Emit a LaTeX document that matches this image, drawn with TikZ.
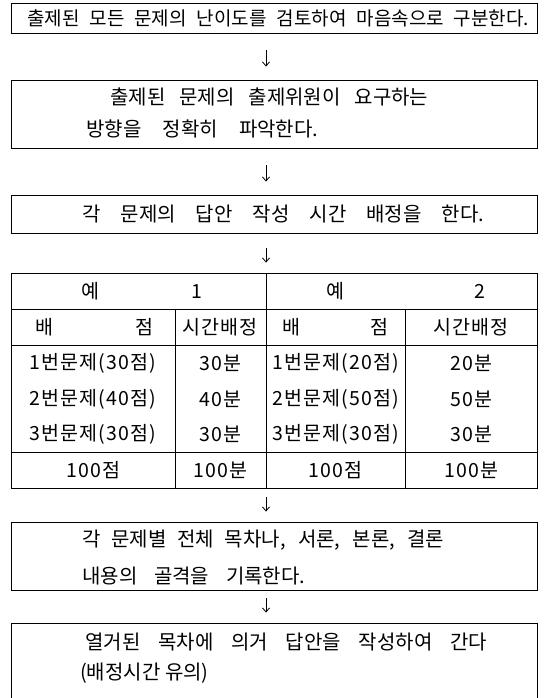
\documentclass[tikz,border=0pt]{standalone}
\usepackage{fontspec}
\setmainfont{Noto Sans CJK KR}
\newfontfamily\tblfont[LetterSpace=6]{Noto Sans CJK KR}
\usetikzlibrary{arrows.meta}
\begin{document}
\begin{tikzpicture}[x=1pt,y=-1pt,
  box/.style={draw,line width=0.9pt,minimum width=526pt,inner sep=0pt},
  txt/.style={anchor=west,inner sep=0pt,font=\fontsize{20}{22}\selectfont},
  cell/.style={inner sep=0pt,font=\tblfont\fontsize{19.5}{21}\selectfont},
  rule/.style={line width=0.9pt},
  arr/.style={line width=0.8pt,-{Straight Barb[length=4pt,width=7pt]}}]
\useasboundingbox (0,0) rectangle (547,698);
% boxes
\node[box,minimum height=30pt] (b1) at (274,18) {};
\node[box,minimum height=68pt] (b2) at (274,114) {};
\node[box,minimum height=38pt] (b3) at (274,214) {};
\node[box,minimum height=215pt] (tbl) at (274,380.5) {};
\node[box,minimum height=68pt] (b5) at (274,556) {};
\node[box,minimum height=90pt] (b6) at (274,668) {};
% texts
\node[txt,font=\fontsize{19}{21}\selectfont] (t1) at (27,18) {\makebox[502pt][s]{출제된 모든 문제의 난이도를 검토하여 마음속으로 구분한다.}};
\node[txt] (t2a) at (110,97) {\makebox[318pt][s]{출제된 문제의 출제위원이 요구하는}};
\node[txt] (t2b) at (86,129) {\makebox[232pt][s]{방향을 정확히 파악한다.}};
\node[txt] (t3) at (82,214) {\makebox[402pt][s]{각 문제의 답안 작성 시간 배정을 한다.}};
\node[txt] (t5a) at (82,540) {\makebox[362pt][s]{각 문제별 전체 목차나, 서론, 본론, 결론}};
\node[txt] (t5b) at (82,576) {\makebox[223pt][s]{내용의 골격을 기록한다.}};
\node[txt] (t6a) at (85,642) {\makebox[402pt][s]{열거된 목차에 의거 답안을 작성하여 간다}};
\node[txt] (t6b) at (80,673) {(배정시간 유의)};
% table rules
\draw[rule] (11,309) -- (537,309);
\draw[rule] (11,345) -- (537,345);
\draw[rule] (11,452) -- (537,452);
\draw[rule] (266,273) -- (266,488);
\draw[rule] (175,309) -- (175,488);
\draw[rule] (405,309) -- (405,488);
% table cells
\node[cell] (h1) at (142,291) {예\hspace{92pt}1};
\node[cell] (h2) at (406,291) {예\hspace{130pt}2};
\node[cell] (s1) at (94,327) {배\hspace{82pt}점};
\node[cell] (s2) at (220,327) {시간배정};
\node[cell] (s3) at (335,327) {배\hspace{70pt}점};
\node[cell] (s4) at (471,327) {시간배정};
\node[cell] (r1a) at (93,363) {1번문제(30점)};
\node[cell] (r1b) at (220,363) {30분};
\node[cell] (r1c) at (336,363) {1번문제(20점)};
\node[cell] (r1d) at (471,363) {20분};
\node[cell] (r2a) at (93,399) {2번문제(40점)};
\node[cell] (r2b) at (220,399) {40분};
\node[cell] (r2c) at (336,399) {2번문제(50점)};
\node[cell] (r2d) at (471,399) {50분};
\node[cell] (r3a) at (93,434) {3번문제(30점)};
\node[cell] (r3b) at (220,434) {30분};
\node[cell] (r3c) at (336,434) {3번문제(30점)};
\node[cell] (r3d) at (471,434) {30분};
\node[cell] (ta) at (93,470) {100점};
\node[cell] (tb) at (220,470) {100분};
\node[cell] (tc) at (335,470) {100점};
\node[cell] (td) at (471,470) {100분};
% arrows
\draw[arr,shorten <=17pt,shorten >=13pt] ([xshift=-8pt]b1.south) -- ([xshift=-8pt]b2.north);
\draw[arr,shorten <=17pt,shorten >=13pt] ([xshift=-8pt]b2.south) -- ([xshift=-8pt]b3.north);
\draw[arr,shorten <=15pt,shorten >=10pt] ([xshift=-8pt]b3.south) -- ([xshift=-8pt]tbl.north);
\draw[arr,shorten <=9pt,shorten >=10pt] ([xshift=-8pt]tbl.south) -- ([xshift=-8pt]b5.north);
\draw[arr,shorten <=8pt,shorten >=10pt] ([xshift=-8pt]b5.south) -- ([xshift=-8pt]b6.north);
\end{tikzpicture}
\end{document}
